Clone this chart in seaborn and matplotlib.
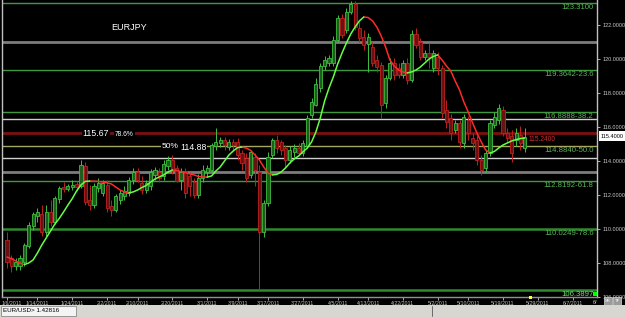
import numpy as np
import pandas as pd
import matplotlib
matplotlib.use("Agg")
import matplotlib.pyplot as plt
import matplotlib.transforms as mtrans
import seaborn as sns
from matplotlib.patches import Rectangle
from matplotlib.lines import Line2D

# ---------------- data ----------------
opens = [109.35, 108.29, 107.82, 107.82, 108.06, 109.00, 110.18, 110.76, 110.88, 109.82,
         111.00, 110.41, 111.76, 112.47, 112.35, 112.47, 112.65, 112.53, 113.71, 111.71,
         111.41, 112.41, 112.12, 112.59, 111.35, 111.12, 111.71, 111.94, 112.12, 112.88,
         113.35, 112.71, 112.29, 112.53, 113.18, 113.35, 113.12, 113.71, 114.06, 113.59,
         112.88, 113.41, 113.12, 112.76, 112.00, 113.00, 113.35, 113.47, 114.88, 115.06,
         115.24, 114.82, 115.12, 115.12, 114.47, 114.18, 113.18, 114.24, 113.35, 109.82,
         111.53, 114.35, 115.24, 115.12, 114.76, 114.06, 114.53, 114.76, 114.47, 114.88,
         116.71, 117.29, 118.29, 119.59, 119.76, 119.76, 121.12, 122.41, 121.71, 122.76,
         123.24, 121.82, 121.29, 120.88, 120.71, 119.94, 119.65, 117.41, 118.88, 119.76,
         119.47, 119.06, 119.76, 118.76, 121.47, 121.00, 120.12, 120.35, 119.47, 120.12,
         119.47, 117.00, 116.53, 115.82, 116.24, 115.06, 116.41, 115.35, 115.24, 114.06,
         113.59, 114.47, 116.12, 116.41, 117.00, 115.65, 115.47, 115.24, 115.53, 114.76]
closes = [108.06, 107.82, 108.06, 108.29, 109.06, 110.24, 110.88, 111.00, 109.82, 111.00,
          110.41, 111.82, 112.41, 112.35, 112.53, 112.59, 112.47, 113.76, 111.59, 111.41,
          112.53, 112.71, 112.71, 111.24, 111.12, 111.94, 112.12, 112.24, 112.88, 113.35,
          112.88, 112.29, 112.71, 113.35, 113.47, 113.00, 113.82, 114.06, 113.47, 112.82,
          113.35, 112.12, 112.53, 112.00, 113.00, 113.47, 113.59, 114.94, 115.12, 115.24,
          114.94, 115.12, 114.94, 114.35, 113.88, 113.00, 114.53, 113.47, 109.82, 111.53,
          114.24, 115.24, 114.76, 114.65, 114.06, 114.65, 114.76, 114.47, 115.06, 116.53,
          117.47, 118.53, 119.59, 119.94, 120.06, 121.12, 122.41, 121.41, 122.76, 123.24,
          121.88, 121.24, 120.82, 121.29, 119.76, 119.53, 117.29, 118.88, 119.76, 119.06,
          119.06, 119.76, 118.76, 121.47, 120.82, 120.12, 120.35, 120.12, 120.35, 119.47,
          116.82, 116.29, 115.65, 116.24, 115.12, 116.59, 115.65, 115.06, 114.06, 113.47,
          114.47, 116.24, 116.59, 117.12, 115.65, 115.35, 114.47, 115.65, 115.06, 115.41]
highs = [109.82, 108.47, 108.29, 108.47, 109.18, 110.41, 111.00, 111.24, 111.41, 111.41,
         111.71, 111.94, 112.53, 112.76, 112.65, 112.88, 112.82, 114.06, 113.94, 112.59,
         112.71, 113.00, 112.88, 112.88, 111.71, 112.06, 112.29, 112.53, 113.06, 113.59,
         113.59, 113.12, 112.88, 113.53, 113.65, 113.59, 114.06, 114.29, 114.35, 113.76,
         113.59, 113.59, 113.35, 113.00, 113.24, 113.76, 113.76, 115.06, 115.94, 115.41,
         115.41, 115.29, 115.29, 115.35, 114.65, 114.47, 114.65, 114.47, 113.76, 111.71,
         114.53, 115.35, 115.53, 115.24, 114.94, 114.88, 115.00, 115.06, 115.24, 116.71,
         117.71, 118.88, 119.76, 120.18, 120.24, 121.35, 122.59, 122.65, 123.00, 123.41,
         123.41, 122.18, 121.71, 121.53, 121.00, 120.24, 119.82, 119.06, 120.06, 120.06,
         119.76, 119.94, 120.06, 121.71, 121.82, 121.24, 120.53, 120.94, 120.53, 120.41,
         119.65, 117.59, 116.76, 116.41, 116.41, 116.76, 116.65, 115.65, 115.53, 114.35,
         114.65, 116.41, 116.88, 117.35, 117.24, 115.94, 115.82, 115.94, 116.06, 115.94]
lows = [107.71, 107.47, 107.59, 107.59, 107.82, 108.88, 109.94, 110.41, 109.59, 109.59,
        110.18, 110.29, 111.53, 112.18, 112.24, 112.29, 112.24, 112.41, 111.41, 111.12,
        111.24, 112.18, 111.94, 111.00, 110.76, 111.00, 111.47, 111.71, 111.94, 112.65,
        112.76, 112.06, 112.12, 112.29, 112.88, 112.76, 112.88, 113.47, 113.24, 112.76,
        112.29, 111.82, 111.94, 111.82, 111.82, 112.76, 113.12, 113.35, 114.65, 114.82,
        114.65, 114.65, 114.65, 114.06, 113.47, 112.76, 113.00, 112.53, 106.41, 109.53,
        111.35, 114.18, 114.47, 114.35, 113.59, 113.88, 114.24, 114.29, 114.29, 114.76,
        116.53, 117.24, 118.06, 119.35, 119.59, 119.59, 121.00, 121.24, 121.53, 122.65,
        121.71, 121.00, 120.53, 119.24, 119.59, 119.24, 116.53, 117.12, 118.76, 118.76,
        118.88, 118.88, 118.53, 118.65, 120.65, 119.94, 119.94, 119.47, 119.24, 119.06,
        116.53, 115.94, 115.24, 115.65, 114.76, 114.76, 115.24, 114.65, 113.76, 113.18,
        113.35, 114.29, 115.94, 116.18, 115.47, 115.12, 113.94, 114.88, 114.65, 114.53]
ma_values = [108.35, 108.26, 108.12, 108.00, 107.91, 108.00, 108.18, 108.59, 109.06, 109.47,
             109.88, 110.29, 110.62, 111.00, 111.41, 111.79, 112.24, 112.59, 112.80, 112.82,
             112.81, 112.80, 112.76, 112.71, 112.65, 112.47, 112.29, 112.18, 112.12, 112.18,
             112.29, 112.44, 112.56, 112.76, 112.94, 113.06, 113.18, 113.35, 113.47, 113.44,
             113.38, 113.32, 113.24, 113.18, 113.09, 113.06, 113.05, 113.12, 113.41, 113.65,
             114.00, 114.35, 114.59, 114.79, 114.82, 114.76, 114.62, 114.35, 114.06, 113.65,
             113.29, 113.18, 113.21, 113.35, 113.59, 113.88, 114.12, 114.29, 114.53, 114.76,
             115.12, 115.71, 116.53, 117.53, 118.29, 118.94, 119.71, 120.35, 120.94, 121.47,
             121.88, 122.24, 122.47, 122.44, 122.24, 121.88, 121.35, 120.71, 119.94, 119.59,
             119.35, 119.24, 119.18, 119.24, 119.35, 119.53, 119.76, 120.00, 120.15, 120.24,
             119.94, 119.59, 119.29, 118.71, 118.18, 117.47, 116.88, 116.24, 115.65, 115.12,
             114.65, 114.47, 114.56, 114.76, 114.94, 115.06, 115.18, 115.26, 115.32, 115.35]

date_labels = ['1/6/2011', '1/14/2011', '1/24/2011', '2/2/2011', '2/10/2011', '2/20/2011',
               '3/1/2011', '3/9/2011', '3/17/2011', '3/27/2011', '4/5/2011', '4/13/2011',
               '4/22/2011', '5/2/2011', '5/10/2011', '5/19/2011', '5/29/2011', '6/7/2011']
y_ticks = [106, 108, 110, 112, 114, 116, 118, 120, 122]

fib_levels = [123.31, 119.3642, 116.8888, 114.8840, 112.8192, 110.0249, 106.3897]
fib_labels = ['123.3100', '119.3642-23.6', '116.8888-38.2', '114.8840-50.0',
              '112.8192-61.8', '110.0249-78.6', '106.3897']
grey_levels = [121.02, 113.37]
white_levels = [116.47, 114.16]
retr_level_786 = 115.67
retr_level_50 = 114.88
last_price = 115.40
ma_tag = 115.24
title = 'EURJPY'
status_text = 'EUR/USD> 1.42816'

# ---------------- style ----------------
sns.set_style("dark", {"axes.facecolor": "black", "figure.facecolor": "black"})
plt.rcParams['font.family'] = ['Liberation Sans', 'DejaVu Sans']

W, H = 625, 317
fig = plt.figure(figsize=(W / 100, H / 100), dpi=100)
fig.patch.set_facecolor('black')
ax = fig.add_axes([2 / W, 20 / H, 595 / W, 297 / H])
ax.set_facecolor('black')
ax.grid(False)

# calendar of bars (Sunday to Friday sessions)
all_days = pd.date_range('2011-01-06', '2011-06-30', freq='D')
bar_days = all_days[all_days.dayofweek != 5]
tick_pos = [bar_days.get_loc(pd.Timestamp(d)) for d in pd.to_datetime(date_labels, format='%m/%d/%Y')]

n = len(opens)
xs = np.arange(n)
o = np.array(opens); c = np.array(closes); hi = np.array(highs); lo = np.array(lows)
up = c >= o
edge = np.where(up, '#3fbf3f', '#c02020')
fill = np.where(up, '#1d5e1d', '#6a1212')

# horizontal levels
for lv in grey_levels:
    ax.axhline(lv, color='#7c7c7c', lw=2.0, zorder=1)
for lv in white_levels:
    ax.axhline(lv, color='#cfcfcf', lw=1.0, zorder=1)
ax.axhline(retr_level_786, color='#7a1010', lw=2.0, zorder=1)
ax.axhline(retr_level_50, color='#a8a860', lw=1.0, zorder=1)
for lv, lab in zip(fib_levels, fib_labels):
    thick = lv < 111
    if abs(lv - retr_level_50) > 0.01:
        ax.axhline(lv, color='#2f8a2f' if thick else '#3f9a3f', lw=1.8 if thick else 1.0, zorder=1)
    col = '#6ee06e' if lv < 107 else '#56b856'
    ax.text(134.8, lv - 0.06, lab, ha='right', va='top', color=col, fontsize=5.6, zorder=6)

# candles
ax.vlines(xs, lo, hi, colors=edge, lw=0.7, zorder=2)
heights = np.where(np.abs(c - o) < 0.04, 0.04, np.abs(c - o))
ax.bar(xs, heights, bottom=np.minimum(o, c), width=0.72, color=fill,
       edgecolor=edge, linewidth=0.6, zorder=3)

# moving average coloured by direction
ma = np.array(ma_values)
rows = []
seg, prev = 0, None
for j in range(len(ma) - 1):
    d = 'up' if ma[j + 1] >= ma[j] else 'down'
    if prev is not None and d != prev:
        seg += 1
    rows.append(dict(i=j, ma=ma[j], seg=seg, dir=d))
    rows.append(dict(i=j + 1, ma=ma[j + 1], seg=seg, dir=d))
    prev = d
df_ma = pd.DataFrame(rows)
sns.lineplot(data=df_ma, x='i', y='ma', hue='dir', units='seg', estimator=None, sort=False,
             palette={'up': '#66ff44', 'down': '#ff2a2a'}, lw=1.1, legend=False, ax=ax, zorder=5)
ax.set_xlabel('')
ax.set_ylabel('')

# axes
ax.set_xlim(-1.15, 135.6)
ax.set_ylim(123.47 - 297 / 17, 123.47)
ax.yaxis.tick_right()
ax.set_yticks(y_ticks)
ax.set_yticklabels([f'{v:.4f}' for v in y_ticks])
ax.set_xticks(tick_pos)
ax.set_xticklabels(date_labels)
ax.tick_params(axis='y', colors='#c8c8c8', labelsize=4, length=2, width=0.6, pad=2, right=True)
ax.tick_params(axis='x', colors='#c8c8c8', labelsize=3.8, length=2, width=0.6, pad=1, bottom=True)
first = ax.get_xticklabels()[0]
first.set_horizontalalignment('left')
first.set_transform(first.get_transform() + mtrans.ScaledTranslation(-5 / 100, 0, fig.dpi_scale_trans))
for s in ['left', 'right']:
    ax.spines[s].set_color('#c0c0c0'); ax.spines[s].set_linewidth(1.0)
ax.spines['bottom'].set_color('#909090'); ax.spines['bottom'].set_linewidth(1.0)
ax.spines['top'].set_visible(False)

# annotations
def fx(px): return px / W
def fy(py): return 1 - py / H

fig.text(fx(129), fy(28), title, ha='center', va='center', color='white', fontsize=6.5)
bb = dict(facecolor='black', edgecolor='none', pad=0.6)
fig.text(fx(96), fy(133), f'{retr_level_786:.2f}', ha='center', va='center', color='white', fontsize=6.3, bbox=bb)
fig.text(fx(124.5), fy(134), '78.6%', ha='center', va='center', color='white', fontsize=4.8, bbox=bb)
fig.text(fx(170), fy(146), '50%', ha='center', va='center', color='white', fontsize=6.0, bbox=bb)
fig.text(fx(193), fy(148), f'{retr_level_50:.2f}', ha='center', va='center', color='white', fontsize=6.3, bbox=bb)
ax.text(n - 0.2, ma_tag, f'{ma_tag:.4f}', ha='left', va='center', color='#d03030', fontsize=4.8, zorder=6)
fig.text(fx(595), fy(302), '6/', ha='center', va='center', color='#c8c8c8', fontsize=4)

# current price box on the price scale
fig.add_artist(Rectangle((fx(599), fy(141)), 26 / W, 10 / H, transform=fig.transFigure,
                         facecolor='white', edgecolor='none'))
fig.text(fx(612), fy(136), f'{last_price:.4f}', ha='center', va='center', color='black', fontsize=4)

# small markers
fig.add_artist(Rectangle((fx(593), fy(296)), 4 / W, 4 / H, transform=fig.transFigure,
                         facecolor='#00ff00', edgecolor='none'))
fig.add_artist(Rectangle((fx(529), fy(299)), 3 / W, 3 / H, transform=fig.transFigure,
                         facecolor='#ffff40', edgecolor='none'))
for x0, lab in [(604, 'SR'), (613, 'TF')]:
    fig.add_artist(Rectangle((fx(x0), fy(305)), 8 / W, 8 / H, transform=fig.transFigure,
                             facecolor='#9a9a9a', edgecolor='#dddddd', lw=0.5))
    fig.text(fx(x0 + 4), fy(301), lab, ha='center', va='center', color='white', fontsize=3)

# status bar
fig.add_artist(Rectangle((0, 0), 1, 12 / H, transform=fig.transFigure, facecolor='#d8d6d0', edgecolor='none'))
fig.add_artist(Rectangle((fx(1), 1 / H), 75 / W, 10 / H, transform=fig.transFigure,
                         facecolor='#f4f4f4', edgecolor='#8a8a8a', lw=0.6))
fig.add_artist(Line2D([fx(432), fx(432)], [1 / H, 11 / H], transform=fig.transFigure, color='#6a6a6a', lw=0.7))
fig.text(fx(3), 6 / H, status_text, ha='left', va='center', color='black', fontsize=4.5)

fig.savefig('out.png', dpi=100, facecolor='black')
